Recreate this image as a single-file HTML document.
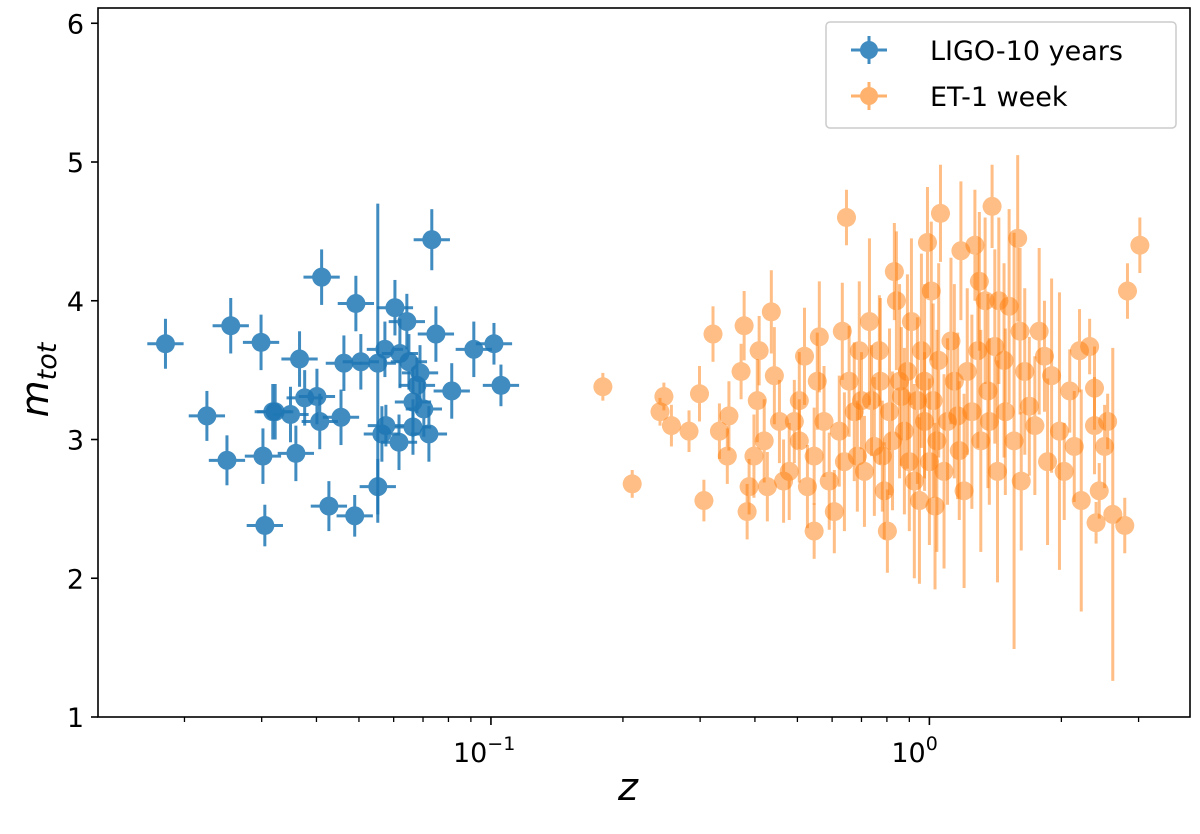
<!DOCTYPE html>
<html><head><meta charset="utf-8"><style>
body{margin:0;background:#fff;}
svg text{font-family:"DejaVu Sans","Liberation Sans",sans-serif;fill:#000;}
</style></head><body>
<svg id="chart" width="1200" height="829" xmlns="http://www.w3.org/2000/svg">
<g id="plot"></g>
<g id="axes"></g>
<g id="legend">
<rect x="826" y="22" width="350" height="106" rx="4" fill="#fff" fill-opacity="0.8" stroke="#ccc" stroke-width="1.5"/>
<g opacity="0.85">
<line x1="851" y1="50" x2="887" y2="50" stroke="#1f77b4" stroke-width="3"/>
<line x1="869" y1="36" x2="869" y2="64" stroke="#1f77b4" stroke-width="3"/>
<circle cx="869" cy="50" r="9" fill="#1f77b4"/></g>
<text x="930" y="60" font-size="27">LIGO-10 years</text>
<g opacity="0.6">
<line x1="851" y1="96" x2="887" y2="96" stroke="#ff7f0e" stroke-width="3"/>
<line x1="869" y1="82" x2="869" y2="110" stroke="#ff7f0e" stroke-width="3"/>
<circle cx="869" cy="96" r="9" fill="#ff7f0e"/></g>
<text x="930" y="106" font-size="27">ET-1 week</text>
</g>
</svg>
<script>
const zBlue=[0.0181,0.0225,0.0250,0.0255,0.0299,0.0302,0.0305,0.0318,0.0322,0.0349,0.0359,0.0366,0.0376,0.0401,0.0407,0.0411,0.0427,0.0455,0.0462,0.0492,0.0489,0.0505,0.0552,0.0552,0.0564,0.0573,0.0604,0.0617,0.0620,0.0643,0.0650,0.0664,0.0678,0.0689,0.0703,0.0722,0.0733,0.0749,0.0814,0.0914,0.1016,0.1054,0.0664,0.0576];
const mBlue=[3.69,3.17,2.85,3.82,3.70,2.88,2.38,3.20,3.20,3.18,2.90,3.58,3.30,3.31,3.13,4.17,2.52,3.16,3.55,3.98,2.45,3.56,3.55,2.66,3.04,3.65,3.95,2.98,3.62,3.85,3.56,3.09,3.39,3.48,3.22,3.04,4.44,3.76,3.35,3.65,3.69,3.39,3.27,3.10];
const errBlue=[0.18,0.18,0.18,0.2,0.2,0.2,0.15,0.2,0.2,0.2,0.2,0.2,0.2,0.2,0.2,0.2,0.18,0.2,0.2,0.2,0.15,0.2,1.15,0.2,0.2,0.2,0.2,0.2,0.25,0.2,0.2,0.2,0.2,0.2,0.2,0.2,0.22,0.2,0.2,0.2,0.15,0.15,0.25,0.15];
const zOrange=[0.180,0.210,0.243,0.248,0.258,0.283,0.299,0.306,0.321,0.332,0.346,0.349,0.372,0.378,0.384,0.388,0.398,0.405,0.409,0.420,0.427,0.436,0.443,0.455,0.465,0.479,0.492,0.505,0.505,0.519,0.527,0.546,0.546,0.555,0.561,0.575,0.591,0.607,0.623,0.633,0.640,0.647,0.656,0.674,0.685,0.692,0.700,0.711,0.730,0.738,0.749,0.769,0.773,0.781,0.789,0.802,0.811,0.824,0.832,0.841,0.855,0.863,0.877,0.891,0.900,0.910,0.924,0.939,0.949,0.959,0.975,0.975,0.990,1.00,1.01,1.02,1.03,1.04,1.05,1.06,1.08,1.10,1.12,1.14,1.16,1.17,1.18,1.20,1.22,1.25,1.27,1.29,1.30,1.31,1.34,1.36,1.37,1.39,1.41,1.43,1.44,1.48,1.49,1.52,1.56,1.59,1.61,1.62,1.65,1.69,1.74,1.78,1.83,1.86,1.90,1.98,2.03,2.09,2.14,2.20,2.22,2.32,2.38,2.44,2.51,2.55,2.79,2.62,2.83,3.02,2.40,2.38];
const mOrange=[3.38,2.68,3.20,3.31,3.10,3.06,3.33,2.56,3.76,3.06,2.88,3.17,3.49,3.82,2.48,2.66,2.88,3.28,3.64,2.99,2.66,3.92,3.46,3.13,2.70,2.77,3.13,2.99,3.28,3.60,2.66,2.88,2.34,3.42,3.74,3.13,2.70,2.48,3.06,3.78,2.84,4.60,3.42,3.20,2.88,3.64,3.28,2.77,3.85,3.28,2.95,3.64,3.42,2.88,2.63,2.34,3.20,2.99,4.21,4.00,3.42,3.31,3.06,3.49,2.84,3.85,2.70,3.28,2.56,3.64,3.42,3.13,4.42,2.84,4.07,3.28,2.52,2.99,3.57,4.63,2.77,3.13,3.71,3.42,3.17,2.92,4.36,2.63,3.49,3.20,4.40,3.64,4.14,2.99,4.00,3.35,3.13,4.68,3.67,2.77,4.00,3.57,3.20,3.96,2.99,4.45,3.78,2.70,3.49,3.24,3.10,3.78,3.60,2.84,3.46,3.06,2.77,3.35,2.95,3.64,2.56,3.67,3.10,2.63,2.95,3.13,2.38,2.46,4.07,4.40,2.40,3.37];
const errOrange=[0.1,0.1,0.1,0.1,0.15,0.15,0.2,0.15,0.2,0.2,0.2,0.25,0.2,0.25,0.2,0.2,0.3,0.3,0.25,0.3,0.25,0.3,0.35,0.3,0.3,0.35,0.3,0.3,0.35,0.35,0.3,0.35,0.2,0.35,0.4,0.4,0.35,0.3,0.4,0.35,0.5,0.2,0.4,0.5,0.4,0.5,0.35,0.4,0.6,0.4,0.5,0.4,0.6,0.4,0.35,0.3,0.6,0.5,0.35,0.5,0.7,0.5,0.6,0.7,0.5,0.6,0.7,0.6,0.6,0.7,0.7,0.5,0.4,0.6,0.5,0.7,0.6,0.8,0.7,0.35,0.7,0.6,0.6,0.7,0.6,0.5,0.5,0.7,0.6,0.7,0.4,0.7,0.5,0.8,0.6,0.7,0.6,0.3,0.7,0.8,0.6,0.7,0.6,0.7,1.5,0.6,0.6,0.5,0.6,0.5,0.5,0.6,0.4,0.6,0.7,1.0,0.35,0.3,0.4,0.3,0.8,0.2,0.35,0.2,0.3,0.2,0.2,1.2,0.2,0.2,0.15,0.3];
const yTicks=[1,2,3,4,5,6];
const xMajor=[0.1,1];
const xMajorLabels=["10","10"];
const xMinor=[0.02,0.03,0.04,0.05,0.06,0.07,0.08,0.09,0.2,0.3,0.4,0.5,0.6,0.7,0.8,0.9,2,3];

const L=98,R=1190,T=8,B=717;
const xMin=Math.log10(0.0127),xMax=Math.log10(3.93);
const X=z=>L+(Math.log10(z)-xMin)/(xMax-xMin)*(R-L);
const Y=m=>B-(m-1)/(6.11-1)*(B-T);
const NS='http://www.w3.org/2000/svg';
function mk(tag,attrs,parent){const e=document.createElementNS(NS,tag);for(const k in attrs)e.setAttribute(k,attrs[k]);parent.appendChild(e);return e;}
const plot=document.getElementById('plot'),axes=document.getElementById('axes');
function series(zs,ms,errs,color,op,name,xf){
  const g=mk('g',{},plot);
  
  
  zs.forEach((z,i)=>{
    const p=mk('g',{opacity:op},g);
    
    
    const cx=X(z),cy=Y(ms[i]);
    mk('line',{x1:X(z/xf),x2:X(z*xf),y1:cy,y2:cy,stroke:color,'stroke-width':3},p);
    mk('line',{x1:cx,x2:cx,y1:Y(ms[i]-errs[i]),y2:Y(ms[i]+errs[i]),stroke:color,'stroke-width':3},p);
    mk('circle',{cx:cx,cy:cy,r:9.5,fill:color},p);
  });
}
series(zBlue,mBlue,errBlue,'#1f77b4',0.85,'ligo',1.1);
series(zOrange,mOrange,errOrange,'#ff7f0e',0.5,'et',1.05);
mk('rect',{x:L,y:T,width:R-L,height:B-T,fill:'none',stroke:'#000','stroke-width':1.6},axes);
yTicks.forEach(v=>{
  const y=Y(v);
  const t=mk('line',{x1:L-7,x2:L,y1:y,y2:y,stroke:'#000','stroke-width':1.6},axes);
  
  
  const tx=mk('text',{x:L-14,y:y+10,'font-size':27,'text-anchor':'end'},axes);
  tx.textContent=v;
  
  
});
xMinor.forEach(v=>{const x=X(v);const t=mk('line',{x1:x,x2:x,y1:B,y2:B+5,stroke:'#000','stroke-width':1.3},axes);
  
  });
xMajor.forEach((v,i)=>{
  const x=X(v);
  mk('line',{x1:x,x2:x,y1:B,y2:B+8,stroke:'#000','stroke-width':1.6},axes);
  const tx=mk('text',{x:x-38,y:B+45,'font-size':27},axes);
  
  
  tx.textContent=xMajorLabels[i];
  const e=mk('tspan',{dy:-12,'font-size':19},tx);
  e.textContent=String(Math.round(Math.log10(v))).replace('-','−');
});
const xl=mk('text',{x:628,y:800,'font-size':38,'font-style':'italic','text-anchor':'middle'},axes);
xl.textContent='z';


const yl=mk('text',{x:0,y:0,'font-size':38,'font-style':'italic',transform:'translate(48,380) rotate(-90)','text-anchor':'middle'},axes);


yl.textContent='m';
const sub=mk('tspan',{dy:8,'font-size':27},yl);sub.textContent='tot';
</script>
</body></html>
